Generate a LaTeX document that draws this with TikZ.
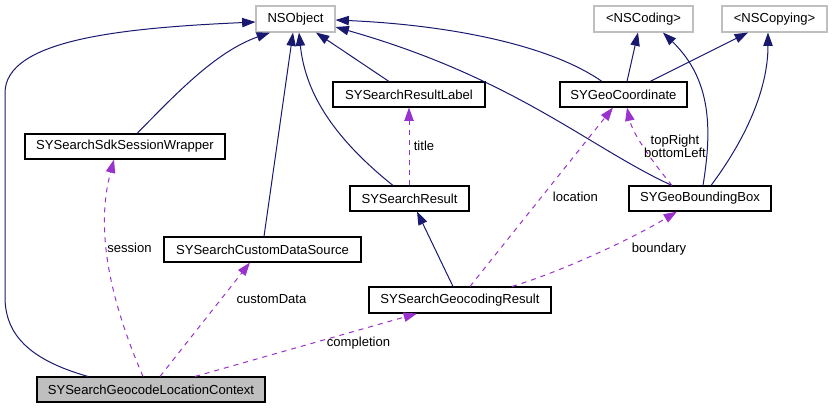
\documentclass[tikz,border=0pt]{standalone}
\usepackage{fontspec}
\setmainfont{Liberation Sans}
\usetikzlibrary{arrows.meta,calc}
\definecolor{navy}{HTML}{191970}
\definecolor{dpurple}{HTML}{9A32CD}
\definecolor{lgray}{HTML}{BFBFBF}
\tikzset{
  box/.style={draw=black, line width=0.8pt, inner sep=0pt, minimum height={25*0.75pt}, font=\fontsize{9.8pt}{11pt}\selectfont},
  gbox/.style={box, draw=lgray, minimum height={26*0.75pt}},
  inh/.style={draw=navy, line width=0.75pt, -{Triangle[length=10pt,width=7pt]}},
  use/.style={draw=dpurple, line width=0.75pt, dash pattern=on 3.75pt off 3.75pt, -{Triangle[length=10pt,width=7pt]}},
  lbl/.style={font=\fontsize{9.8pt}{11pt}\selectfont, inner sep=0pt, align=center}
}
\begin{document}
\begin{tikzpicture}[x=0.75pt, y=-0.75pt]
\useasboundingbox (0,0) rectangle (833,408);
% nodes
\node[gbox, minimum width={79*0.75pt}] (nso) at (295.5,19) {NSObject};
\node[gbox, minimum width={99*0.75pt}] (nscod) at (643.5,19) {<NSCoding>};
\node[gbox, minimum width={105*0.75pt}] (nscop) at (774.5,19) {<NSCopying>};
\node[box, minimum width={152*0.75pt}] (srl) at (409,94.5) {SYSearchResultLabel};
\node[box, minimum width={127*0.75pt}] (geoc) at (623.5,94.5) {SYGeoCoordinate};
\node[box, minimum width={200*0.75pt}] (sdk) at (125,146.5) {SYSearchSdkSessionWrapper};
\node[box, minimum width={119*0.75pt}] (sr) at (409.5,198.5) {SYSearchResult};
\node[box, minimum width={142*0.75pt}] (gbb) at (700,198.5) {SYGeoBoundingBox};
\node[box, minimum width={197*0.75pt}] (cds) at (262.5,249.5) {SYSearchCustomDataSource};
\node[box, minimum width={182*0.75pt}, minimum height={26*0.75pt}] (geor) at (460,300) {SYSearchGeocodingResult};
\node[box, fill=lgray, minimum width={228*0.75pt}] (ctx) at (151,389.5) {SYSearchGeocodeLocationContext};

% inheritance edges
\draw[inh] ($(ctx.north)+(-63,0)$) .. controls (30,360) and (5,335) .. (5,297) -- (5,93) .. controls (5,40) and (120,28) .. ($(nso.west)+(0,3)$);
\draw[inh] ($(sdk.north)+(12,0)$) .. controls (175,95) and (215,52) .. ($(nso.south)+(-25.5,0)$);
\draw[inh] ($(cds.north)+(1.5,0)$) -- ($(nso.south)+(-2.5,0)$);
\draw[inh] ($(sr.north)+(-16.5,0)$) .. controls (330,135) and (305,90) .. ($(nso.south)+(3.5,0)$);
\draw[inh] ($(srl.north)+(-20,0)$) -- ($(nso.south)+(20.5,0)$);
\draw[inh] ($(geoc.north)+(-21.5,0)$) .. controls (550,45) and (450,25) .. ($(nso.east)+(0,1)$);
\draw[inh] ($(gbb.north)+(-28,0)$) .. controls (590,148) and (515,78) .. ($(nso.east)+(0,8)$);
\draw[inh] ($(geoc.north)+(3.5,0)$) -- ($(nscod.south)+(-5.5,0)$);
\draw[inh] ($(geoc.north)+(26.5,0)$) -- ($(nscop.south)+(-26.5,0)$);
\draw[inh] ($(gbb.north)+(3,0)$) .. controls (712,130) and (712,80) .. ($(nscod.south)+(19.5,0)$);
\draw[inh] ($(gbb.north)+(11,0)$) .. controls (745,140) and (768,90) .. ($(nscop.south)+(-6.5,0)$);
\draw[inh] ($(geor.north)+(-7,0)$) -- ($(sr.south)+(7.5,0)$);

% usage edges
\draw[use] ($(ctx.north)+(-8,0)$) .. controls (110,300) and (95,230) .. ($(sdk.south)+(-11,0)$);
\draw[use] ($(ctx.north)+(9,0)$) -- ($(cds.south)+(-12.5,0)$);
\draw[use] ($(ctx.north)+(44,0)$) -- ($(geor.south)+(-43,0)$);
\draw[use] ($(geor.north)+(10,0)$) -- ($(geoc.south)+(-10.5,0)$);
\draw[use] ($(geor.north)+(52,0)$) .. controls (560,272) and (630,240) .. ($(gbb.south)+(-23,0)$);
\draw[use] ($(sr.north)+(-0.5,0)$) -- (srl.south);
\draw[use] ($(gbb.north)+(-28,0)$) .. controls (655,165) and (633,135) .. ($(geoc.south)+(3.5,0)$);

% labels
\node[lbl] (lsession) at (129.5,248) {session};
\node[lbl] (lcustom) at (271.5,299) {customData};
\node[lbl] (lcompl) at (358.5,343) {completion};
\node[lbl] (lloc) at (575.5,197) {location};
\node[lbl] (lbound) at (659,249) {boundary};
\node[lbl] (ltitle) at (424,146) {title};
\node[lbl] (ltr) at (675,146) {topRight\\[-1.5pt]bottomLeft};
\end{tikzpicture}
\end{document}
